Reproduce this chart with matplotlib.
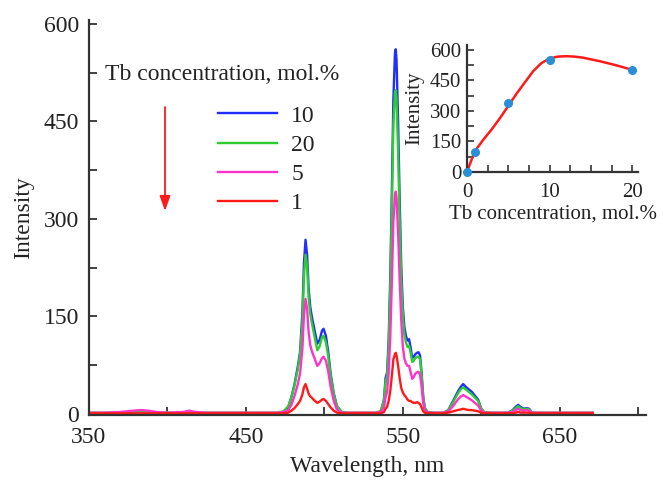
import matplotlib
matplotlib.use("Agg")
import matplotlib.pyplot as plt
from matplotlib.ticker import MultipleLocator, FixedLocator

plt.rcParams['font.family'] = ['Liberation Serif', 'DejaVu Serif']

# ---------------- data ----------------
wavelength = [350, 360, 370, 378, 383, 388, 393, 400, 410, 414, 418, 425, 440, 460, 470,
              474, 477, 479, 481, 483, 484.5, 486, 487, 488, 489, 490, 491, 492, 493.5,
              495.5, 497, 498.5, 499.5, 501, 502.5, 504, 506, 508, 511, 515, 525, 533,
              536, 538, 539, 540, 541, 542, 543, 544, 545, 545.5, 546, 547, 548, 549,
              550, 551, 552, 553, 554, 555, 556, 557, 558, 559, 560, 561, 562, 563, 564,
              566, 570, 576, 579, 582, 585, 587, 588.5, 590, 592, 594, 596, 598, 600,
              602, 606, 612, 617, 620, 622, 623.5, 625, 627, 629, 630.5, 632, 634, 640,
              650, 660, 671]

int_10 = [1, 1, 1, 2, 2, 2, 1, 1, 1, 2, 1, 1, 1, 1, 1,
          3, 10, 26, 46, 72, 95, 155, 232, 268, 245, 192, 165, 150, 132,
          108, 114, 128, 131, 120, 95, 62, 32, 12, 3, 1, 1, 1,
          4, 22, 55, 64, 115, 210, 340, 485, 555, 561, 545, 450, 330, 228,
          165, 134, 120, 113, 115, 102, 86, 88, 92, 94, 95, 90, 62, 27, 9,
          2, 1, 1, 6, 20, 34, 42, 46, 42, 38, 34, 28, 22, 8,
          2, 1, 1, 1, 6, 11, 14, 11, 8, 9, 8, 3, 1, 1,
          1, 1, 1]

int_20 = [2, 2, 2, 3, 3, 3, 2, 2, 2, 3, 2, 2, 2, 2, 2,
          4, 12, 26, 44, 68, 90, 142, 212, 245, 226, 178, 154, 140, 122,
          98, 104, 118, 120, 110, 88, 58, 30, 12, 3, 2, 2, 2,
          5, 20, 50, 58, 105, 190, 310, 445, 495, 498, 484, 402, 298, 206,
          152, 122, 110, 103, 105, 94, 80, 82, 86, 88, 88, 84, 58, 26, 9,
          3, 2, 2, 6, 18, 31, 38, 41, 38, 34, 30, 25, 20, 8,
          3, 2, 2, 2, 5, 9, 12, 9, 7, 8, 7, 3, 2, 2,
          2, 2, 2]

int_5 = [2, 2, 3, 5, 6, 5, 3, 2, 3, 5, 3, 2, 2, 2, 2,
         3, 6, 14, 28, 45, 62, 100, 152, 177, 162, 125, 106, 97, 87,
         74, 78, 86, 88, 82, 65, 42, 20, 7, 2, 2, 2, 2,
         3, 10, 26, 34, 64, 118, 200, 296, 338, 342, 333, 278, 206, 145,
         104, 85, 78, 74, 74, 64, 54, 57, 62, 64, 65, 60, 42, 17, 6,
         2, 2, 2, 4, 12, 22, 27, 29, 27, 24, 21, 17, 13, 5,
         2, 2, 2, 2, 3, 6, 8, 6, 5, 6, 5, 2, 2, 2,
         2, 2, 2]

int_1 = [1, 1, 1, 1, 1, 1, 1, 1, 1, 1, 1, 1, 1, 1, 1,
         1, 2, 5, 9, 15, 20, 30, 41, 46, 39, 31, 27, 25, 21,
         17, 19, 22, 23, 20, 15, 10, 5, 2, 1, 1, 1, 1,
         1, 3, 8, 11, 20, 35, 58, 84, 92, 94, 90, 74, 55, 40,
         33, 29, 26, 22, 20, 20, 18, 17, 17, 18, 17, 15, 10, 4, 2,
         1, 1, 1, 2, 4, 6, 7, 8, 7, 6, 6, 5, 4, 2,
         1, 1, 1, 1, 1, 2, 3, 2, 2, 2, 2, 1, 1, 1,
         1, 1, 1]

series_labels = ['10', '20', '5', '1']
series_colors = ['#1f2fff', '#2fcc2f', '#ff33cc', '#ff1a1a']

# inset data
conc_pts = [0, 1, 5, 10, 20]
int_pts = [0, 100, 341, 551, 502]
conc_fit = [0, 0.5, 1, 2, 3, 4, 5, 6, 7, 8, 9, 10, 11, 12, 13, 14, 16, 18, 20]
int_fit = [0, 55, 105, 160, 210, 265, 325, 385, 440, 495, 535, 558, 567, 569, 567, 562, 545, 525, 502]

main_xticks = [350, 450, 550, 650]
main_yticks = [0, 150, 300, 450, 600]
inset_xticks = [0, 10, 20]
inset_yticks = [0, 150, 300, 450, 600]

# ---------------- figure ----------------
W, H = 663, 482
fig = plt.figure(figsize=(W / 100, H / 100), dpi=100)

def px_rect(x0, y0, x1, y1):
    return [x0 / W, 1 - y1 / H, (x1 - x0) / W, (y1 - y0) / H]

ax = fig.add_axes(px_rect(89, 20, 646, 414.6))
spine_col = '#333333'
txt_col = '#222222'

for y, c, lab in zip([int_10, int_20, int_5, int_1], series_colors, series_labels):
    ax.plot(wavelength, y, color=c, lw=1.7, label=lab, solid_joinstyle='round')

ax.set_xlim(350, 705)
ax.set_ylim(-1, 606)
ax.xaxis.set_major_locator(FixedLocator(main_xticks))
ax.xaxis.set_minor_locator(MultipleLocator(50))
ax.yaxis.set_major_locator(FixedLocator(main_yticks))
ax.yaxis.set_minor_locator(MultipleLocator(75))
for s in ['top', 'right']:
    ax.spines[s].set_visible(False)
for s in ['left', 'bottom']:
    ax.spines[s].set_color(spine_col)
    ax.spines[s].set_linewidth(1.6)
ax.tick_params(which='both', direction='in', length=6, width=1.3, color=spine_col,
               labelsize=17, labelcolor=txt_col)
ax.tick_params(axis='x', pad=9)
ax.tick_params(axis='y', pad=7)
ax.set_xlabel('Wavelength, nm', fontsize=17, color=txt_col, labelpad=6)
ax.set_ylabel('Intensity', fontsize=17, color=txt_col, labelpad=7)

# legend title text and arrow
fig.text(105 / W, 1 - 75 / H, 'Tb concentration, mol.%', fontsize=17, color=txt_col,
         va='center', ha='left')
leg = ax.legend(loc='upper left', bbox_to_anchor=(218 / W, 1 - 105 / H),
                bbox_transform=fig.transFigure, frameon=False, fontsize=17,
                handlelength=2.5, handletextpad=0.6, labelspacing=0.33,
                borderpad=0, borderaxespad=0)
for t in leg.get_texts():
    t.set_color(txt_col)
fig.patches.append(matplotlib.patches.FancyArrowPatch(
    (165 / W, 1 - 107 / H), (165 / W, 1 - 211 / H), transform=fig.transFigure,
    arrowstyle='-|>,head_length=9,head_width=3.2', color='#ff1a1a', lw=1.3,
    mutation_scale=1, shrinkA=0, shrinkB=0))

# ---------------- inset ----------------
axi = fig.add_axes(px_rect(467, 45, 638, 172))
axi.plot(conc_fit, int_fit, color='#ff1a1a', lw=1.8, zorder=2)
axi.plot(conc_pts, int_pts, 'o', color='#2b8fd8', ms=5.5, zorder=3, clip_on=False)
axi.set_xlim(0, 20.7)
axi.set_ylim(0, 624)
axi.xaxis.set_major_locator(FixedLocator(inset_xticks))
axi.xaxis.set_minor_locator(MultipleLocator(2.5))
axi.yaxis.set_major_locator(FixedLocator(inset_yticks))
axi.yaxis.set_minor_locator(MultipleLocator(75))
for s in ['top', 'right']:
    axi.spines[s].set_visible(False)
for s in ['left', 'bottom']:
    axi.spines[s].set_color(spine_col)
    axi.spines[s].set_linewidth(1.6)
axi.tick_params(which='both', direction='in', length=5, width=1.2, color=spine_col,
                labelsize=15, labelcolor=txt_col, pad=4)
axi.tick_params(axis='x', pad=8)
axi.set_xlabel('Tb concentration, mol.%', fontsize=15, color=txt_col, labelpad=2)
axi.set_ylabel('Intensity', fontsize=15, color=txt_col, labelpad=4)

fig.savefig('out.png', dpi=100)
